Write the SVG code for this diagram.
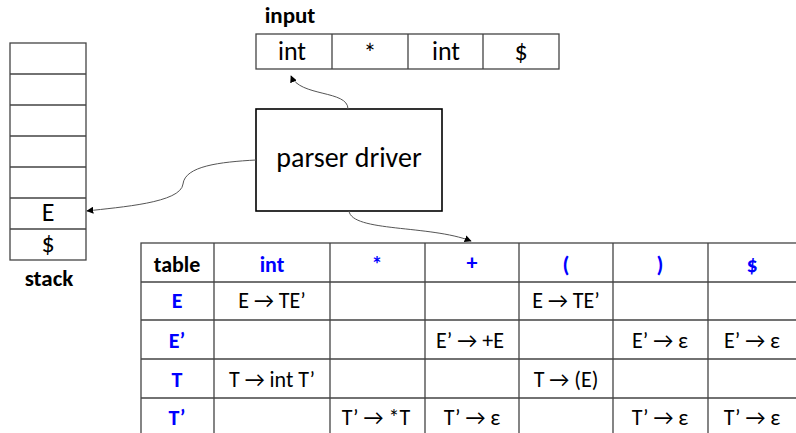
<svg xmlns="http://www.w3.org/2000/svg" width="796" height="433" viewBox="0 0 796 433">
<style>
.box{fill:#fff;stroke:#000;stroke-width:1.6}
.grid{fill:none;stroke:#444;stroke-width:1.3}
.t{font-family:Carlito,"Liberation Sans",Arial,sans-serif;text-anchor:middle;fill:#000}
.big{font-size:26px}
.cell{font-size:22px}
.hb{font-size:22px;font-weight:bold;fill:#0000ff}
.lab{font-size:23px;font-weight:bold}
.conn{fill:none;stroke:#555;stroke-width:1}
</style>
<defs>
<marker id="ah" viewBox="0 0 10 10" refX="9" refY="5" markerWidth="7" markerHeight="7" orient="auto" markerUnits="userSpaceOnUse">
<path d="M0,0 L10,5 L0,10 z" fill="#000"/>
</marker>
</defs>

<g id="stack">
<rect class="grid" x="10" y="43" width="76" height="217"/>
<path class="grid" d="M10,74H86M10,105H86M10,136H86M10,167H86M10,198H86M10,229H86"/>
<text class="t big" x="48" y="221">E</text>
<text class="t big" x="48" y="252">$</text>
<text class="t lab" x="49" y="286">stack</text>
</g>

<g id="input">
<text class="t lab" x="290" y="23">input</text>
<rect class="grid" x="256" y="34" width="303" height="35"/>
<path class="grid" d="M332,34V69M408,34V69M483,34V69"/>
<text class="t big" x="292" y="60">int</text>
<text class="t big" x="370" y="62">*</text>
<text class="t big" x="446" y="60">int</text>
<text class="t big" x="521" y="60">$</text>
</g>

<g id="driver">
<rect class="box" x="256" y="109" width="186" height="102"/>
<text class="t" style="font-size:28px" x="349" y="167">parser driver</text>
</g>

<g id="table">
<rect class="grid" x="141" y="243" width="660" height="200"/>
<path class="grid" d="M214,243V433M330,243V433M425,243V433M519,243V433M613,243V433M708,243V433M141,282H796M141,320H796M141,359H796M141,398H796"/>
<text class="t lab" style="font-size:22px" x="177" y="272">table</text>
<text class="t hb" x="272" y="272">int</text>
<text class="t hb" x="377" y="272">*</text>
<text class="t hb" x="472" y="270">+</text>
<text class="t hb" x="566" y="272">(</text>
<text class="t hb" x="660" y="272">)</text>
<text class="t hb" x="752" y="272">$</text>
<text class="t hb" x="177" y="308">E</text>
<text class="t hb" x="177" y="348">E’</text>
<text class="t hb" x="177" y="387">T</text>
<text class="t hb" x="177" y="425">T’</text>
<text class="t cell" x="272" y="308">E → TE’</text>
<text class="t cell" x="566" y="308">E → TE’</text>
<text class="t cell" x="470" y="348">E’ → +E</text>
<text class="t cell" x="660" y="348">E’ → ε</text>
<text class="t cell" x="752" y="348">E’ → ε</text>
<text class="t cell" x="272" y="387">T → int T’</text>
<text class="t cell" x="566" y="387">T → (E)</text>
<text class="t cell" x="376" y="425">T’ → *T</text>
<text class="t cell" x="472" y="425">T’ → ε</text>
<text class="t cell" x="660" y="425">T’ → ε</text>
<text class="t cell" x="752" y="425">T’ → ε</text>
</g>

<g id="connectors">
<path class="conn" marker-end="url(#ah)" d="M348,109 C348,90 300,97 291,76"/>
<path class="conn" marker-end="url(#ah)" d="M256,160 C220,162 185,166 183,184 C181,203 120,207 87,211"/>
<path class="conn" marker-end="url(#ah)" d="M349,211 C352,232 430,225 471,241"/>
</g>
</svg>
